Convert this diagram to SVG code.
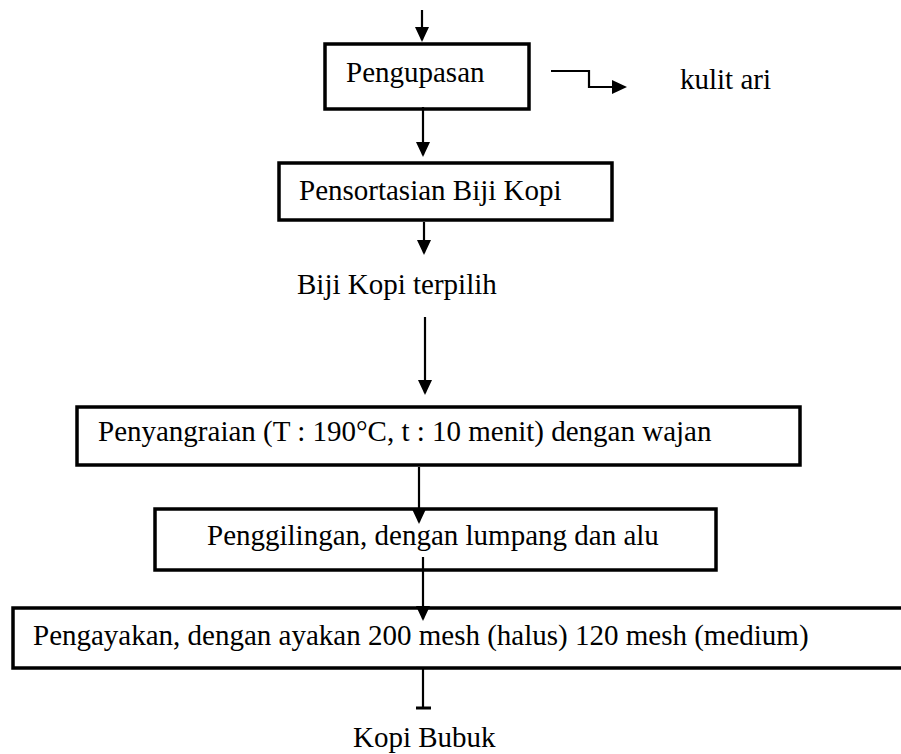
<svg xmlns="http://www.w3.org/2000/svg" width="901" height="754" viewBox="0 0 901 754">
<style>
.box{fill:#fff;stroke:#000;stroke-width:3.5}
.t{font-family:"Liberation Serif","Times New Roman",serif;font-size:29px;fill:#000}
.c{fill:none;stroke:#000;stroke-width:2.2}
</style>
<defs>
<marker id="ah" markerUnits="userSpaceOnUse" markerWidth="15" markerHeight="14" refX="13" refY="7" orient="auto">
<path d="M0,0 L15,7 L0,14 z" fill="#000"/>
</marker>
</defs>
<rect width="901" height="754" fill="#fff"/>
<g id="n1"><rect class="box" x="325" y="44" width="204" height="65"/><text class="t" x="346" y="82">Pengupasan</text></g>
<g id="n_kulit"><text class="t" x="680" y="89">kulit ari</text></g>
<g id="n2"><rect class="box" x="279" y="163" width="333" height="57"/><text class="t" x="299" y="200">Pensortasian Biji Kopi</text></g>
<g id="n_biji"><text class="t" x="297" y="294">Biji Kopi terpilih</text></g>
<g id="n3"><rect class="box" x="77" y="407" width="723" height="58"/><text class="t" x="98" y="441">Penyangraian (T : 190°C, t : 10 menit) dengan wajan</text></g>
<g id="n4"><rect class="box" x="155" y="509" width="561" height="61"/><text class="t" x="207" y="545">Penggilingan, dengan lumpang dan alu</text></g>
<g id="n5"><rect class="box" x="13" y="608" width="895" height="60"/><text class="t" x="33" y="645">Pengayakan, dengan ayakan 200 mesh (halus) 120 mesh (medium)</text></g>
<g id="n_kopi"><text class="t" x="353" y="747">Kopi Bubuk</text></g>
<g id="connectors">
<line class="c" x1="422" y1="10" x2="422" y2="40" marker-end="url(#ah)"/>
<line class="c" x1="423" y1="107" x2="423" y2="155" marker-end="url(#ah)"/>
<line class="c" x1="424" y1="222" x2="424" y2="253" marker-end="url(#ah)"/>
<line class="c" x1="425" y1="317" x2="425" y2="393" marker-end="url(#ah)"/>
<line class="c" x1="419" y1="467" x2="419" y2="522" marker-end="url(#ah)"/>
<line class="c" x1="423" y1="557" x2="423" y2="619" marker-end="url(#ah)"/>
<polyline class="c" points="551,71 589,71 589,87 625,87" marker-end="url(#ah)"/>
<line class="c" x1="423" y1="669" x2="423" y2="708"/>
<line x1="416" y1="708" x2="431" y2="708" stroke="#000" stroke-width="3"/>
</g>
</svg>
